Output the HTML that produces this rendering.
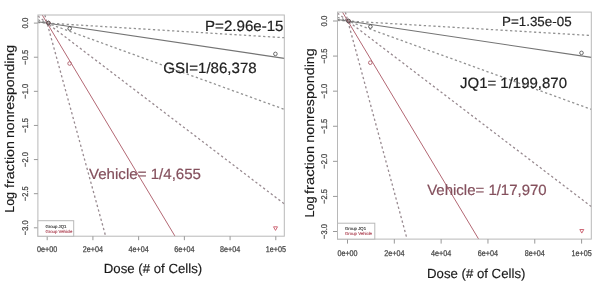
<!DOCTYPE html>
<html><head><meta charset="utf-8"><style>
html,body{margin:0;padding:0;background:#fff;}
body{width:600px;height:296px;overflow:hidden;}

svg{display:block;will-change:transform;text-rendering:geometricPrecision;font-family:"Liberation Sans",sans-serif;}
.tk{font-size:8.3px;fill:#444;stroke:#444;stroke-width:0.25px;}
.lg{font-size:4.3px;}
</style></head><body><div id="w">
<svg width="600" height="296" viewBox="0 0 600 296">
<rect x="0" y="0" width="600" height="296" fill="#fff"/>
<g>
<line x1="37.9" y1="22.53" x2="284.3" y2="37.71" stroke="#929292" stroke-width="1.3" stroke-dasharray="2.3 2.5"/>
<line x1="37.9" y1="21.73" x2="284.3" y2="58.42" stroke="#747474" stroke-width="1.15"/>
<line x1="37.9" y1="19.75" x2="284.3" y2="109.35" stroke="#929292" stroke-width="1.3" stroke-dasharray="2.3 2.5"/>
<line x1="37.9" y1="16.09" x2="284.3" y2="203.85" stroke="#988a90" stroke-width="1.3" stroke-dasharray="2.3 2.5"/>
<line x1="42.24" y1="15.0" x2="175.01" y2="236.2" stroke="#b46874" stroke-width="1.0"/>
<line x1="44.87" y1="15.0" x2="105.64" y2="236.2" stroke="#988a90" stroke-width="1.3" stroke-dasharray="2.3 2.5"/>
<rect x="37.9" y="15.0" width="246.4" height="221.2" fill="none" stroke="#b8b8b8" stroke-width="1"/>
<line x1="47.20" y1="236.2" x2="47.20" y2="240.2" stroke="#999" stroke-width="1"/>
<text x="47.20" y="251.5" text-anchor="middle" class="tk" textLength="20.2" lengthAdjust="spacingAndGlyphs">0e+00</text>
<line x1="92.92" y1="236.2" x2="92.92" y2="240.2" stroke="#999" stroke-width="1"/>
<text x="92.92" y="251.5" text-anchor="middle" class="tk" textLength="20.2" lengthAdjust="spacingAndGlyphs">2e+04</text>
<line x1="138.64" y1="236.2" x2="138.64" y2="240.2" stroke="#999" stroke-width="1"/>
<text x="138.64" y="251.5" text-anchor="middle" class="tk" textLength="20.2" lengthAdjust="spacingAndGlyphs">4e+04</text>
<line x1="184.36" y1="236.2" x2="184.36" y2="240.2" stroke="#999" stroke-width="1"/>
<text x="184.36" y="251.5" text-anchor="middle" class="tk" textLength="20.2" lengthAdjust="spacingAndGlyphs">6e+04</text>
<line x1="230.08" y1="236.2" x2="230.08" y2="240.2" stroke="#999" stroke-width="1"/>
<text x="230.08" y="251.5" text-anchor="middle" class="tk" textLength="20.2" lengthAdjust="spacingAndGlyphs">8e+04</text>
<line x1="275.80" y1="236.2" x2="275.80" y2="240.2" stroke="#999" stroke-width="1"/>
<text x="275.80" y="251.5" text-anchor="middle" class="tk" textLength="20.2" lengthAdjust="spacingAndGlyphs">1e+05</text>
<line x1="33.9" y1="23.10" x2="37.9" y2="23.10" stroke="#999" stroke-width="1"/>
<text x="28" y="23.10" text-anchor="middle" class="tk" textLength="10.9" lengthAdjust="spacingAndGlyphs" transform="rotate(-90 28 23.10)">0.0</text>
<line x1="33.9" y1="57.22" x2="37.9" y2="57.22" stroke="#999" stroke-width="1"/>
<text x="28" y="57.22" text-anchor="middle" class="tk" textLength="14.8" lengthAdjust="spacingAndGlyphs" transform="rotate(-90 28 57.22)">−0.5</text>
<line x1="33.9" y1="91.33" x2="37.9" y2="91.33" stroke="#999" stroke-width="1"/>
<text x="28" y="91.33" text-anchor="middle" class="tk" textLength="14.8" lengthAdjust="spacingAndGlyphs" transform="rotate(-90 28 91.33)">−1.0</text>
<line x1="33.9" y1="125.45" x2="37.9" y2="125.45" stroke="#999" stroke-width="1"/>
<text x="28" y="125.45" text-anchor="middle" class="tk" textLength="14.8" lengthAdjust="spacingAndGlyphs" transform="rotate(-90 28 125.45)">−1.5</text>
<line x1="33.9" y1="159.57" x2="37.9" y2="159.57" stroke="#999" stroke-width="1"/>
<text x="28" y="159.57" text-anchor="middle" class="tk" textLength="14.8" lengthAdjust="spacingAndGlyphs" transform="rotate(-90 28 159.57)">−2.0</text>
<line x1="33.9" y1="193.68" x2="37.9" y2="193.68" stroke="#999" stroke-width="1"/>
<text x="28" y="193.68" text-anchor="middle" class="tk" textLength="14.8" lengthAdjust="spacingAndGlyphs" transform="rotate(-90 28 193.68)">−2.5</text>
<line x1="33.9" y1="227.80" x2="37.9" y2="227.80" stroke="#999" stroke-width="1"/>
<text x="28" y="227.80" text-anchor="middle" class="tk" textLength="14.8" lengthAdjust="spacingAndGlyphs" transform="rotate(-90 28 227.80)">−3.0</text>
<circle cx="48.4" cy="23" r="1.8" fill="none" stroke="#b46874" stroke-width="1"/>
<circle cx="48.4" cy="23" r="1.8" fill="none" stroke="#555" stroke-width="1"/>
<circle cx="69.7" cy="28.5" r="1.8" fill="none" stroke="#555" stroke-width="1"/>
<circle cx="275.4" cy="53.9" r="1.8" fill="none" stroke="#6a6a6a" stroke-width="1"/>
<circle cx="69.6" cy="63.5" r="1.8" fill="none" stroke="#b46874" stroke-width="1"/>
<path d="M273.5,226.8 L277.5,226.8 L275.5,230.4 Z" fill="none" stroke="#c85a6a" stroke-width="0.9"/>
<rect x="37.9" y="220.7" width="35.800000000000004" height="15.5" fill="#fff" stroke="#b8b8b8" stroke-width="1"/>
<text transform="translate(45.4 227.7) scale(0.5)" font-size="8.6" fill="#3a3a3a" stroke="#3a3a3a" stroke-width="0.3">Group JQ1</text>
<text transform="translate(45.4 232.7) scale(0.5)" font-size="8.6" fill="#b04858" stroke="#b04858" stroke-width="0.3">Group Vehicle</text>
<text x="205.0" y="31.3" font-size="14.9" fill="#222" stroke="#222" stroke-width="0.2" textLength="78.5" lengthAdjust="spacingAndGlyphs">P=2.96e-15</text>
<text x="163.3" y="73.1" font-size="14.9" fill="#222" stroke="#222" stroke-width="0.2" textLength="93.4" lengthAdjust="spacingAndGlyphs">GSI=1/86,378</text>
<text x="89.0" y="178.5" font-size="14.9" fill="#84505d" stroke="#84505d" stroke-width="0.2" textLength="112" lengthAdjust="spacingAndGlyphs">Vehicle= 1/4,655</text>
<text x="103.8" y="272.7" font-size="13.2" fill="#1a1a1a" stroke="#1a1a1a" stroke-width="0.15" textLength="98.4" lengthAdjust="spacingAndGlyphs">Dose (# of Cells)</text>
<text x="14.0" y="212.8" font-size="13.0" fill="#1a1a1a" stroke="#1a1a1a" stroke-width="0.15" textLength="20.8" lengthAdjust="spacingAndGlyphs" transform="rotate(-90 14.0 212.8)">Log</text>
<text x="14.0" y="187.9" font-size="13.0" fill="#1a1a1a" stroke="#1a1a1a" stroke-width="0.15" textLength="46.9" lengthAdjust="spacingAndGlyphs" transform="rotate(-90 14.0 187.9)">fraction</text>
<text x="14.0" y="138.0" font-size="13.0" fill="#1a1a1a" stroke="#1a1a1a" stroke-width="0.15" textLength="93.0" lengthAdjust="spacingAndGlyphs" transform="rotate(-90 14.0 138.0)">nonresponding</text>
<line x1="337.5" y1="20.39" x2="591.3" y2="35.51" stroke="#929292" stroke-width="1.3" stroke-dasharray="2.3 2.5"/>
<line x1="337.5" y1="19.46" x2="591.3" y2="57.43" stroke="#747474" stroke-width="1.15"/>
<line x1="337.5" y1="17.26" x2="591.3" y2="109.34" stroke="#929292" stroke-width="1.3" stroke-dasharray="2.3 2.5"/>
<line x1="337.5" y1="13.15" x2="591.3" y2="206.55" stroke="#988a90" stroke-width="1.3" stroke-dasharray="2.3 2.5"/>
<line x1="342.46" y1="12.1" x2="478.63" y2="239.1" stroke="#b46874" stroke-width="1.0"/>
<line x1="345.38" y1="12.1" x2="407.07" y2="239.1" stroke="#988a90" stroke-width="1.3" stroke-dasharray="2.3 2.5"/>
<rect x="337.5" y="12.1" width="253.79999999999995" height="227.0" fill="none" stroke="#b8b8b8" stroke-width="1"/>
<line x1="347.50" y1="239.1" x2="347.50" y2="243.6" stroke="#999" stroke-width="1"/>
<text x="347.50" y="256.2" text-anchor="middle" class="tk" textLength="20.2" lengthAdjust="spacingAndGlyphs">0e+00</text>
<line x1="394.32" y1="239.1" x2="394.32" y2="243.6" stroke="#999" stroke-width="1"/>
<text x="394.32" y="256.2" text-anchor="middle" class="tk" textLength="20.2" lengthAdjust="spacingAndGlyphs">2e+04</text>
<line x1="441.14" y1="239.1" x2="441.14" y2="243.6" stroke="#999" stroke-width="1"/>
<text x="441.14" y="256.2" text-anchor="middle" class="tk" textLength="20.2" lengthAdjust="spacingAndGlyphs">4e+04</text>
<line x1="487.96" y1="239.1" x2="487.96" y2="243.6" stroke="#999" stroke-width="1"/>
<text x="487.96" y="256.2" text-anchor="middle" class="tk" textLength="20.2" lengthAdjust="spacingAndGlyphs">6e+04</text>
<line x1="534.78" y1="239.1" x2="534.78" y2="243.6" stroke="#999" stroke-width="1"/>
<text x="534.78" y="256.2" text-anchor="middle" class="tk" textLength="20.2" lengthAdjust="spacingAndGlyphs">8e+04</text>
<line x1="581.60" y1="239.1" x2="581.60" y2="243.6" stroke="#999" stroke-width="1"/>
<text x="581.60" y="256.2" text-anchor="middle" class="tk" textLength="20.2" lengthAdjust="spacingAndGlyphs">1e+05</text>
<line x1="333.0" y1="21.00" x2="337.5" y2="21.00" stroke="#999" stroke-width="1"/>
<text x="327" y="21.00" text-anchor="middle" class="tk" textLength="10.9" lengthAdjust="spacingAndGlyphs" transform="rotate(-90 327 21.00)">0.0</text>
<line x1="333.0" y1="56.08" x2="337.5" y2="56.08" stroke="#999" stroke-width="1"/>
<text x="327" y="56.08" text-anchor="middle" class="tk" textLength="14.8" lengthAdjust="spacingAndGlyphs" transform="rotate(-90 327 56.08)">−0.5</text>
<line x1="333.0" y1="91.17" x2="337.5" y2="91.17" stroke="#999" stroke-width="1"/>
<text x="327" y="91.17" text-anchor="middle" class="tk" textLength="14.8" lengthAdjust="spacingAndGlyphs" transform="rotate(-90 327 91.17)">−1.0</text>
<line x1="333.0" y1="126.25" x2="337.5" y2="126.25" stroke="#999" stroke-width="1"/>
<text x="327" y="126.25" text-anchor="middle" class="tk" textLength="14.8" lengthAdjust="spacingAndGlyphs" transform="rotate(-90 327 126.25)">−1.5</text>
<line x1="333.0" y1="161.33" x2="337.5" y2="161.33" stroke="#999" stroke-width="1"/>
<text x="327" y="161.33" text-anchor="middle" class="tk" textLength="14.8" lengthAdjust="spacingAndGlyphs" transform="rotate(-90 327 161.33)">−2.0</text>
<line x1="333.0" y1="196.42" x2="337.5" y2="196.42" stroke="#999" stroke-width="1"/>
<text x="327" y="196.42" text-anchor="middle" class="tk" textLength="14.8" lengthAdjust="spacingAndGlyphs" transform="rotate(-90 327 196.42)">−2.5</text>
<line x1="333.0" y1="231.50" x2="337.5" y2="231.50" stroke="#999" stroke-width="1"/>
<text x="327" y="231.50" text-anchor="middle" class="tk" textLength="14.8" lengthAdjust="spacingAndGlyphs" transform="rotate(-90 327 231.50)">−3.0</text>
<circle cx="348.5" cy="21" r="1.8" fill="none" stroke="#b46874" stroke-width="1"/>
<circle cx="348.5" cy="21" r="1.8" fill="none" stroke="#555" stroke-width="1"/>
<circle cx="370.4" cy="26.6" r="1.8" fill="none" stroke="#555" stroke-width="1"/>
<circle cx="581.5" cy="52.9" r="1.8" fill="none" stroke="#6a6a6a" stroke-width="1"/>
<circle cx="370.3" cy="62.7" r="1.8" fill="none" stroke="#b46874" stroke-width="1"/>
<path d="M579.8,229.5 L583.8,229.5 L581.8,233.1 Z" fill="none" stroke="#c85a6a" stroke-width="0.9"/>
<rect x="337.5" y="223.2" width="37.30000000000001" height="15.900000000000006" fill="#fff" stroke="#b8b8b8" stroke-width="1"/>
<text transform="translate(345.0 230.2) scale(0.5)" font-size="8.6" fill="#3a3a3a" stroke="#3a3a3a" stroke-width="0.3">Group JQ1</text>
<text transform="translate(345.0 235.2) scale(0.5)" font-size="8.6" fill="#b04858" stroke="#b04858" stroke-width="0.3">Group Vehicle</text>
<text x="502.0" y="26.3" font-size="13.2" fill="#222" stroke="#222" stroke-width="0.2" textLength="69.6" lengthAdjust="spacingAndGlyphs">P=1.35e-05</text>
<text x="460" y="87.6" font-size="14.8" fill="#222" stroke="#222" stroke-width="0.2" textLength="107" lengthAdjust="spacingAndGlyphs">JQ1= 1/199,870</text>
<text x="427.2" y="195.2" font-size="14.8" fill="#84505d" stroke="#84505d" stroke-width="0.2" textLength="119.5" lengthAdjust="spacingAndGlyphs">Vehicle= 1/17,970</text>
<text x="427.0" y="277.7" font-size="13.2" fill="#1a1a1a" stroke="#1a1a1a" stroke-width="0.15" textLength="98.4" lengthAdjust="spacingAndGlyphs">Dose (# of Cells)</text>
<text x="313.9" y="217.5" font-size="13.0" fill="#1a1a1a" stroke="#1a1a1a" stroke-width="0.15" textLength="21.0" lengthAdjust="spacingAndGlyphs" transform="rotate(-90 313.9 217.5)">Log</text>
<text x="313.9" y="194.0" font-size="13.0" fill="#1a1a1a" stroke="#1a1a1a" stroke-width="0.15" textLength="48.2" lengthAdjust="spacingAndGlyphs" transform="rotate(-90 313.9 194.0)">fraction</text>
<text x="313.9" y="142.7" font-size="13.0" fill="#1a1a1a" stroke="#1a1a1a" stroke-width="0.15" textLength="94.4" lengthAdjust="spacingAndGlyphs" transform="rotate(-90 313.9 142.7)">nonresponding</text>
</g>
</svg></div>
</body></html>
